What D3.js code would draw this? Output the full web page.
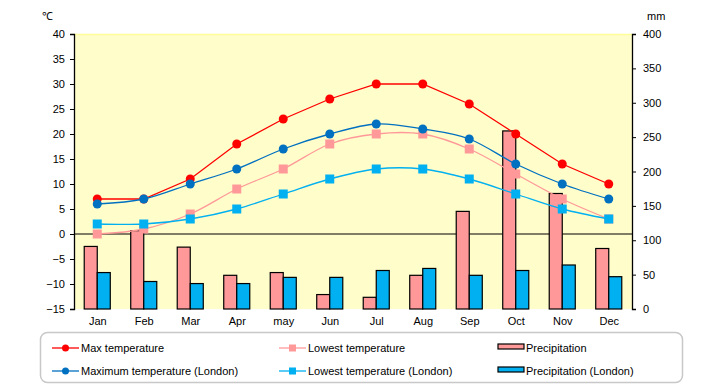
<!DOCTYPE html>
<html>
<head>
<meta charset="utf-8">
<script src="https://cdn.jsdelivr.net/npm/d3@7"></script>
<style>
body { margin: 0; background: #fff; }
svg { font-family: "Liberation Sans", Arial, sans-serif; font-size: 11px; }
</style>
</head>
<body>
<svg></svg>
<script>
var width = 720, height = 385;
var plotL = 74, plotR = 632, plotT = 34, plotB = 309;

// データ
var months = ["Jan", "Feb", "Mar", "Apr", "may", "Jun", "Jul", "Aug", "Sep", "Oct", "Nov", "Dec"];
var maxTemp = [7, 7, 11, 18, 23, 27, 30, 30, 26, 20, 14, 10];
var minTemp = [0, 1, 4, 9, 13, 18, 20, 20, 17, 12, 7, 3];
var maxLondon = [6, 7, 10, 13, 17, 20, 22, 21, 19, 14, 10, 7];
var minLondon = [2, 2, 3, 5, 8, 11, 13, 13, 11, 8, 5, 3];
var precip = [91, 114, 90, 49, 53, 21, 17, 49, 142, 259, 168, 88];
var precipLondon = [53, 40, 37, 37, 46, 46, 56, 59, 49, 56, 64, 47];
var tempTicks = [-15, -10, -5, 0, 5, 10, 15, 20, 25, 30, 35, 40];
var mmTicks = [0, 50, 100, 150, 200, 250, 300, 350, 400];

var svg = d3.select("svg").attr("width", width).attr("height", height);

// スケール
var x = d3.scaleBand().domain(months).range([plotL, plotR]).paddingInner(0.44).paddingOuter(0.22);
var xc = function(m) { return x(m) + x.bandwidth() / 2; };
var x1 = d3.scaleBand().domain(["a", "b"]).range([0, x.bandwidth()]);
var yT = d3.scaleLinear().domain([-15, 40]).range([plotB, plotT]);
var yP = d3.scaleLinear().domain([0, 400]).range([plotB, plotT]);

// 背景
svg.append("rect").attr("x", plotL).attr("y", plotT).attr("width", plotR - plotL).attr("height", plotB - plotT)
    .attr("fill", "#FFFDCA");
svg.append("line").attr("x1", plotL).attr("x2", plotR).attr("y1", plotT + 0.5).attr("y2", plotT + 0.5)
    .attr("stroke", "#FFFF99").attr("stroke-width", 1.5);

// 0度線
svg.append("line").attr("x1", plotL).attr("x2", plotR).attr("y1", yT(0)).attr("y2", yT(0))
    .attr("stroke", "#000").attr("stroke-width", 1.2);

// 棒
var bars = [{key: "a", vals: precip, fill: "#FF9999"}, {key: "b", vals: precipLondon, fill: "#00B0F0"}];
bars.forEach(function(b) {
    svg.append("g").selectAll("rect").data(months).enter().append("rect")
        .attr("x", function(m) { return x(m) + x1(b.key); })
        .attr("y", function(m, i) { return yP(b.vals[i]); })
        .attr("width", x1.bandwidth())
        .attr("height", function(m, i) { return yP(0) - yP(b.vals[i]); })
        .attr("fill", b.fill).attr("stroke", "#000").attr("stroke-width", 1.2);
});

// 折れ線
var series = [
    {vals: maxTemp, color: "#FF0000", shape: "circle", curve: d3.curveLinear},
    {vals: minTemp, color: "#FF9999", shape: "square", curve: d3.curveCardinal.tension(0)},
    {vals: maxLondon, color: "#0070C0", shape: "circle", curve: d3.curveCardinal.tension(0)},
    {vals: minLondon, color: "#00B0F0", shape: "square", curve: d3.curveCardinal.tension(0)}
];
series.forEach(function(s) {
    var line = d3.line().curve(s.curve)
        .x(function(d, i) { return xc(months[i]); })
        .y(function(d) { return yT(d); });
    svg.append("path").datum(s.vals).attr("d", line)
        .attr("fill", "none").attr("stroke", s.color).attr("stroke-width", 1.3);
    var g = svg.append("g");
    if (s.shape == "circle") {
        g.selectAll("circle").data(s.vals).enter().append("circle")
            .attr("cx", function(d, i) { return xc(months[i]); })
            .attr("cy", function(d) { return yT(d); })
            .attr("r", 4.5).attr("fill", s.color);
    } else {
        g.selectAll("rect").data(s.vals).enter().append("rect")
            .attr("x", function(d, i) { return xc(months[i]) - 4.5; })
            .attr("y", function(d) { return yT(d) - 4.5; })
            .attr("width", 9).attr("height", 9).attr("fill", s.color);
    }
});

// 軸
var axL = svg.append("g").attr("transform", "translate(" + plotL + ",0)")
    .call(d3.axisLeft(yT).tickValues(tempTicks).tickSize(4).tickPadding(5).tickFormat(d3.format("d")));
var axR = svg.append("g").attr("transform", "translate(" + plotR + ",0)")
    .call(d3.axisRight(yP).tickValues(mmTicks).tickSize(4).tickPadding(7));
[axL, axR].forEach(function(a) {
    a.attr("font-family", null).attr("font-size", null);
    a.select(".domain").attr("stroke-width", 1.3);
    a.selectAll("text").attr("fill", "#000").text(function(d) { return String(d).replace("-", "\u2212"); });
});
var axB = svg.append("g").attr("transform", "translate(0," + plotB + ")")
    .call(d3.axisBottom(d3.scalePoint().domain(months).range([xc(months[0]), xc(months[11])])).tickSize(0).tickPadding(8));
axB.attr("font-family", null).attr("font-size", null);
axB.select(".domain").remove();
axB.selectAll("text").attr("fill", "#000");

svg.append("text").attr("x", 42).attr("y", 20).text("\u2103");
svg.append("text").attr("x", 647).attr("y", 20).text("mm");

// 凡例
svg.append("rect").attr("x", 40.5).attr("y", 332.5).attr("width", 642).attr("height", 50).attr("rx", 7)
    .attr("fill", "#fff").attr("stroke", "#C8C8C8").attr("stroke-width", 1.5);
var legend = [
    {name: "Max temperature", color: "#FF0000", shape: "circle", x: 52, y: 348},
    {name: "Maximum temperature (London)", color: "#0070C0", shape: "circle", x: 52, y: 371},
    {name: "Lowest temperature", color: "#FF9999", shape: "square", x: 279, y: 348},
    {name: "Lowest temperature (London)", color: "#00B0F0", shape: "square", x: 279, y: 371},
    {name: "Precipitation", color: "#FF9999", shape: "bar", x: 498, y: 348},
    {name: "Precipitation (London)", color: "#00B0F0", shape: "bar", x: 498, y: 371}
];
legend.forEach(function(l) {
    var g = svg.append("g").attr("transform", "translate(" + l.x + "," + l.y + ")");
    if (l.shape == "bar") {
        g.append("rect").attr("x", 0).attr("y", -4).attr("width", 26).attr("height", 5)
            .attr("fill", l.color).attr("stroke", "#000").attr("stroke-width", 1.2);
    } else {
        g.append("line").attr("x1", 0).attr("x2", 27).attr("stroke", l.color).attr("stroke-width", 1.3);
        if (l.shape == "circle") g.append("circle").attr("cx", 13.5).attr("r", 3.5).attr("fill", l.color);
        else g.append("rect").attr("x", 10).attr("y", -3.5).attr("width", 7).attr("height", 7).attr("fill", l.color);
    }
    g.append("text").attr("x", l.shape == "bar" ? 28 : 29).attr("y", 4).text(l.name);
});
</script>
</body>
</html>
